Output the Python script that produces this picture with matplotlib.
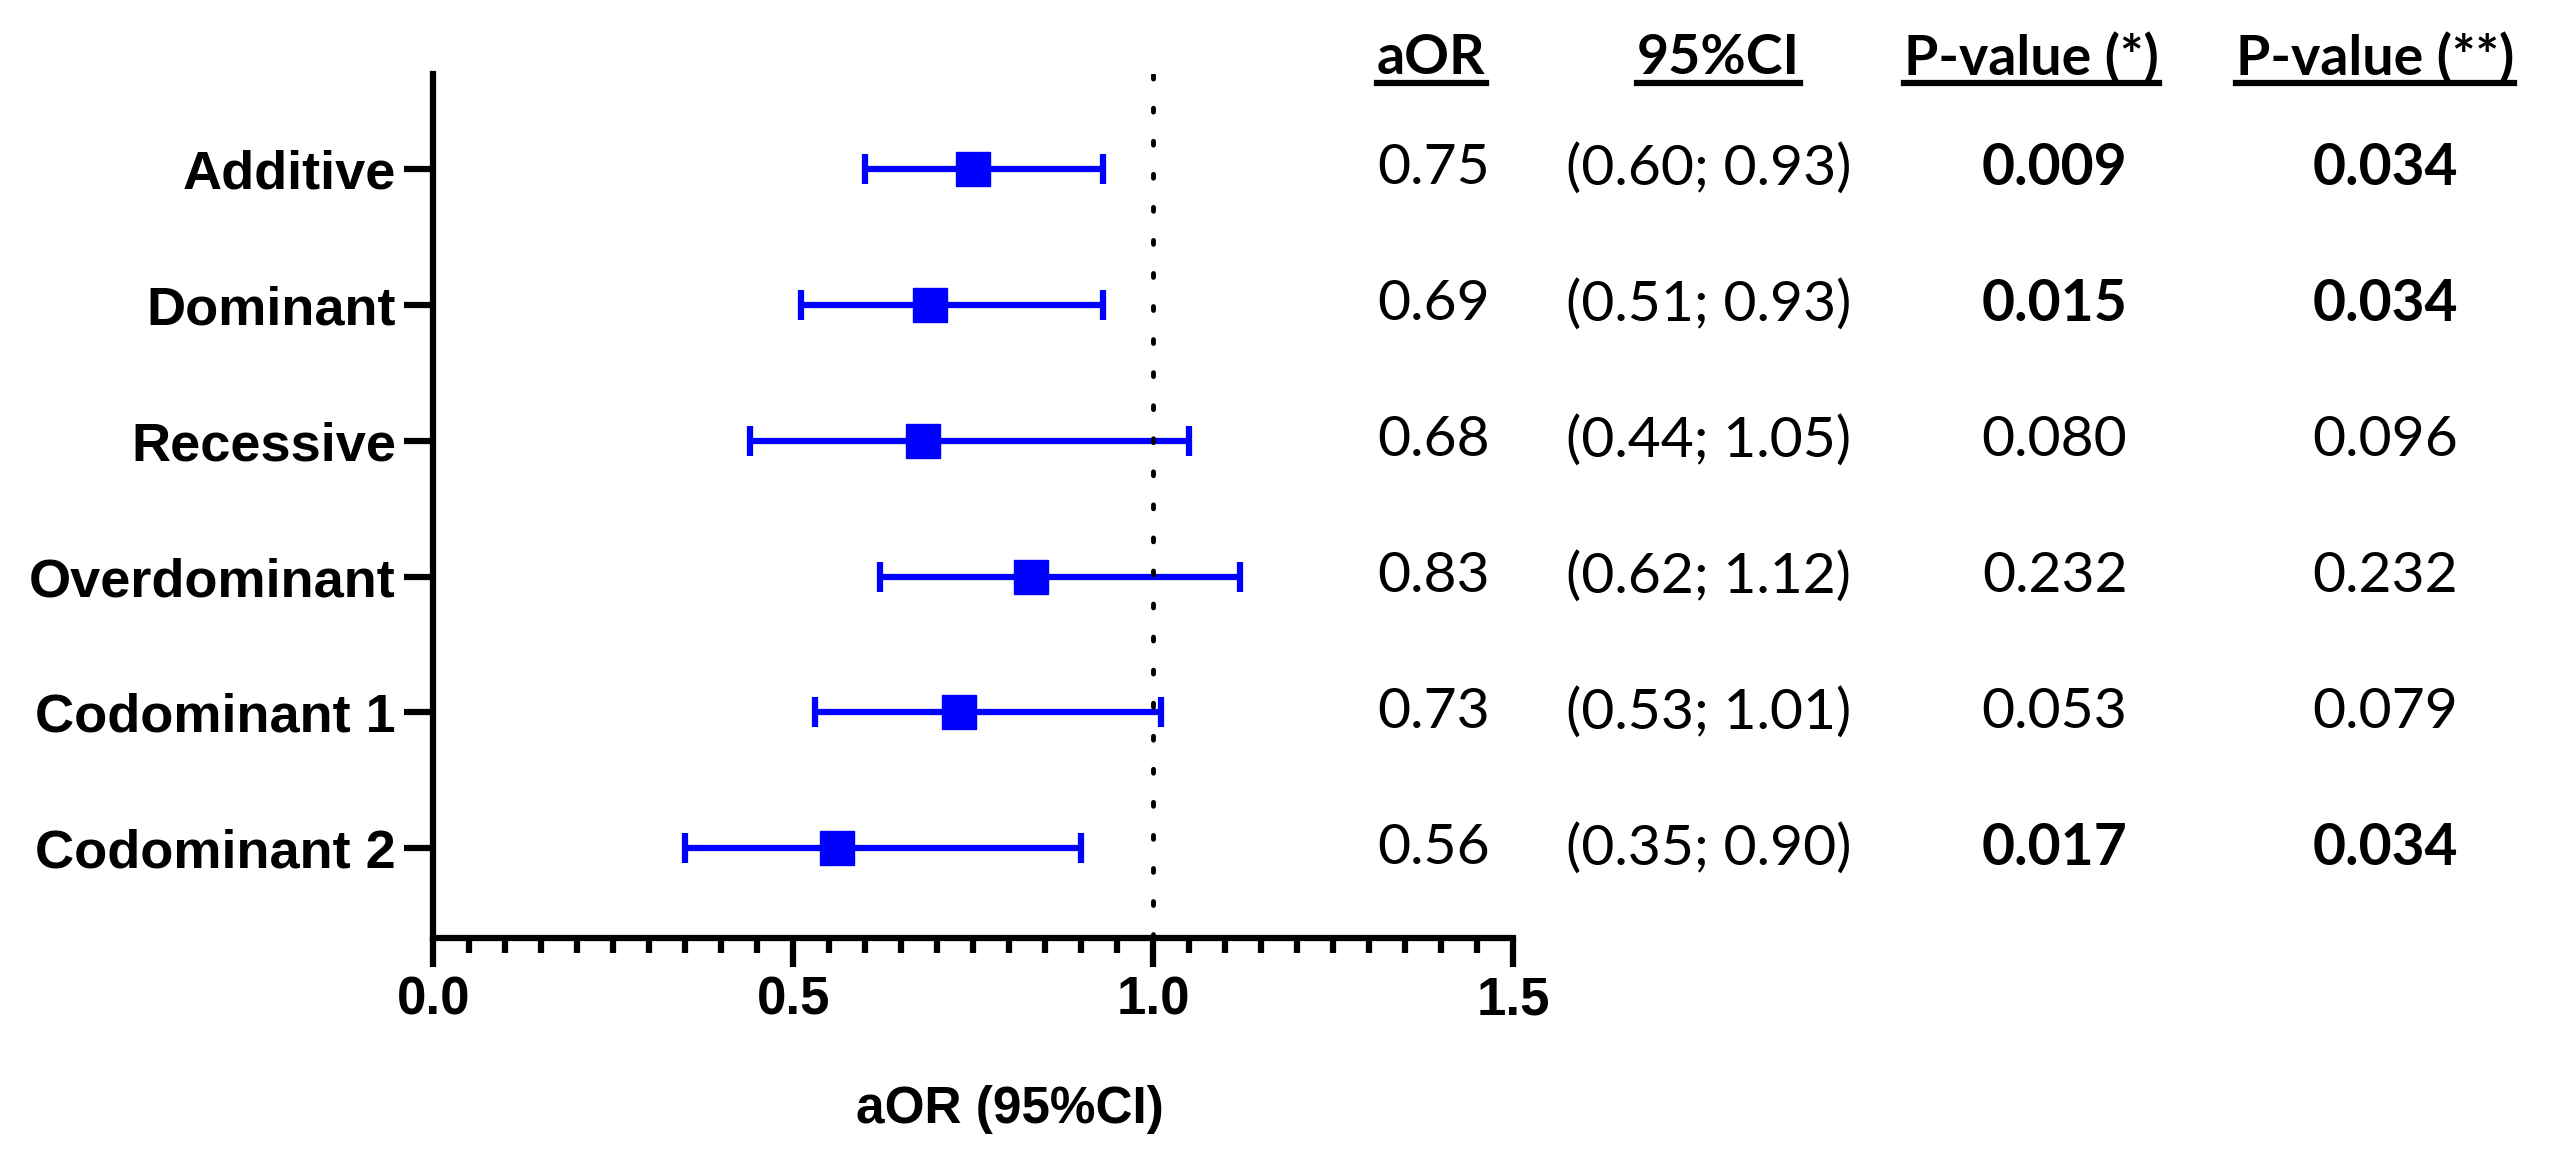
import matplotlib
matplotlib.use("Agg")
import matplotlib.pyplot as plt
from matplotlib.lines import Line2D
from matplotlib.transforms import blended_transform_factory
from matplotlib.ticker import MultipleLocator

models = ["Additive", "Dominant", "Recessive", "Overdominant", "Codominant 1", "Codominant 2"]
aor = [0.75, 0.69, 0.68, 0.83, 0.73, 0.56]
ci_low = [0.60, 0.51, 0.44, 0.62, 0.53, 0.35]
ci_high = [0.93, 0.93, 1.05, 1.12, 1.01, 0.90]
p_adj = ["0.009", "0.015", "0.080", "0.232", "0.053", "0.017"]
p_adj2 = ["0.034", "0.034", "0.096", "0.232", "0.079", "0.034"]
headers = ["aOR", "95%CI", "P-value (*)", "P-value (**)"]
xticks = [0.0, 0.5, 1.0, 1.5]

ypos = list(range(len(models), 0, -1))

fig = plt.figure(figsize=(25.65, 11.53), dpi=100)
ax = fig.add_axes([0.169, 0.1865, 0.421, 0.7495])

xerr = [[a - l for a, l in zip(aor, ci_low)], [h - a for a, h in zip(aor, ci_high)]]
ax.errorbar(aor, ypos, xerr=xerr, fmt="s", color="#0000ff", ecolor="#0000ff",
            markersize=25, elinewidth=4.5, capsize=11, capthick=4.5)
ax.axvline(1.0, color="black", lw=3.5, linestyle=(0, (0.8, 6.0)),
           dash_capstyle="round")

ax.set_xlim(0, 1.5)
ax.set_ylim(0.34, 6.7)
ax.set_yticks(ypos)
ax.set_yticklabels(models)
ax.set_xticks(xticks)
ax.set_xticklabels([f"{v:.1f}" for v in xticks])
ax.xaxis.set_minor_locator(MultipleLocator(0.05))

for s in ["top", "right"]:
    ax.spines[s].set_visible(False)
for s in ["left", "bottom"]:
    ax.spines[s].set_linewidth(4.5)

ax.tick_params(axis="both", which="major", length=21, width=4.5, pad=6)
ax.tick_params(axis="x", which="minor", length=11, width=4.5)
for lab in ax.get_yticklabels():
    lab.set_fontfamily("Liberation Sans")
    lab.set_fontweight("bold")
    lab.set_fontsize(39)
for lab in ax.get_xticklabels():
    lab.set_fontfamily("Liberation Sans")
    lab.set_fontweight("bold")
    lab.set_fontsize(38)
ax.set_xlabel("aOR (95%CI)", fontfamily="Liberation Sans", fontweight="bold",
              fontsize=37)
ax.xaxis.set_label_coords(0.534, -0.17)

# table to the right
val_x = [0.559, 0.666, 0.801, 0.930]
head_x = [0.558, 0.670, 0.792, 0.926]
trans = blended_transform_factory(fig.transFigure, ax.transData)
tfont = dict(fontfamily="Lato", fontsize=41, ha="center", va="center")

for i, y in enumerate(ypos):
    ax.text(val_x[0], y, f"{aor[i]:.2f}", transform=trans, **tfont)
    ax.text(val_x[1], y, f"({ci_low[i]:.2f}; {ci_high[i]:.2f})", transform=trans, **tfont)
    ax.text(val_x[2], y, p_adj[i], transform=trans,
            fontweight="bold" if float(p_adj[i]) < 0.05 else "normal", **tfont)
    ax.text(val_x[3], y, p_adj2[i], transform=trans,
            fontweight="bold" if float(p_adj2[i]) < 0.05 else "normal", **tfont)

head_texts = []
for x, h in zip(head_x, headers):
    t = fig.text(x, 0.950, h, fontfamily="Lato", fontsize=40, fontweight="bold",
                 ha="center", va="center")
    head_texts.append(t)

fig.canvas.draw()
r = fig.canvas.get_renderer()
inv = fig.transFigure.inverted()
for t in head_texts:
    bb = t.get_window_extent(r)
    (x0, _), (x1, _) = inv.transform([(bb.x0, 0), (bb.x1, 0)])
    fig.add_artist(Line2D([x0, x1], [0.928, 0.928], color="black", lw=4.5,
                          transform=fig.transFigure))

fig.savefig("out.png", dpi=100, facecolor="white")
